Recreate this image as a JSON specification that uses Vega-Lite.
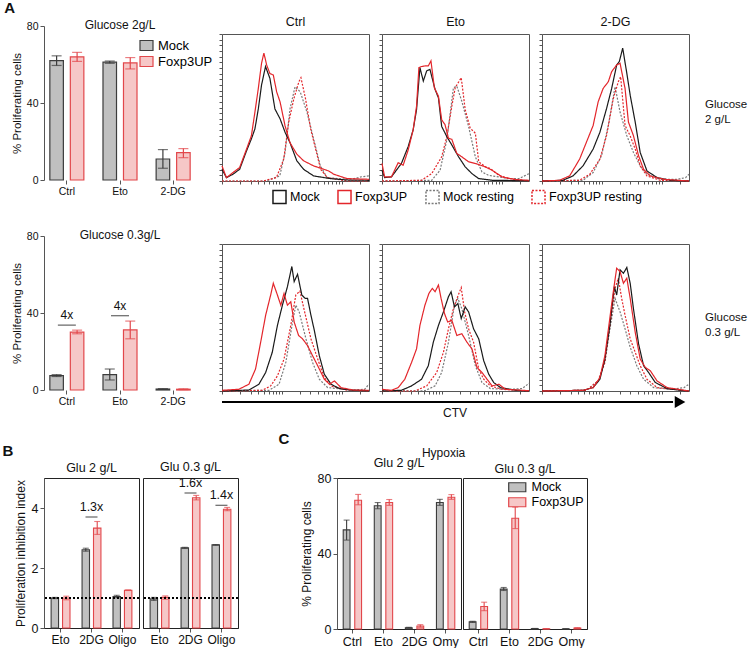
{
"$schema":"https://vega.github.io/schema/vega-lite/v6.json",
"padding":{"left":2,"top":0,"right":0,"bottom":0},
"config":{
 "font":"Liberation Sans",
 "view":{"stroke":null},
 "axis":{"grid":false,"domainColor":"#555","tickColor":"#555","labelColor":"#111","titleColor":"#111","titleFontWeight":"normal","labelFontSize":10.5,"titleFontSize":11.5,"tickSize":4,"labelPadding":2,"titlePadding":4},
 "title":{"fontWeight":"normal","fontSize":12,"color":"#111"},
 "legend":{"labelFontSize":12.5,"titleFontWeight":"normal","layout":{"bottom":{"anchor":"middle"},"top":{"anchor":"middle"}}},
 "header":{"labelFontSize":12.5,"labelColor":"#111"}
},
"datasets":{
 "bars":[
  {"panel":"A1","c":"Ctrl","s":"Mock","v":62,"lo":59.5,"hi":64.5},
  {"panel":"A1","c":"Ctrl","s":"Foxp3UP","v":64,"lo":61.6,"hi":66.3},
  {"panel":"A1","c":"Eto","s":"Mock","v":61.2,"lo":60.6,"hi":61.8},
  {"panel":"A1","c":"Eto","s":"Foxp3UP","v":60.8,"lo":57.7,"hi":63.6},
  {"panel":"A1","c":"2-DG","s":"Mock","v":10.9,"lo":6.1,"hi":15.8},
  {"panel":"A1","c":"2-DG","s":"Foxp3UP","v":14.2,"lo":11.6,"hi":16.3},
  {"panel":"A2","c":"Ctrl","s":"Mock","v":7.5,"lo":7,"hi":8},
  {"panel":"A2","c":"Ctrl","s":"Foxp3UP","v":30.1,"lo":29.2,"hi":31.1},
  {"panel":"A2","c":"Eto","s":"Mock","v":8,"lo":5.2,"hi":10.9},
  {"panel":"A2","c":"Eto","s":"Foxp3UP","v":31.2,"lo":26.6,"hi":35.8},
  {"panel":"A2","c":"2-DG","s":"Mock","v":0.5,"lo":0.3,"hi":0.7},
  {"panel":"A2","c":"2-DG","s":"Foxp3UP","v":0.4,"lo":0.2,"hi":0.6}
 ],
 "ann":[
  {"panel":"A1","c":"Eto","t":"Glucose 2g/L","y":80,"kind":"title"},
  {"panel":"A2","c":"Eto","t":"Glucose 0.3g/L","y":80,"kind":"title"},
  {"panel":"A2","c":"Ctrl","t":"4x","y":33.7,"kind":"fold"},
  {"panel":"A2","c":"Eto","t":"4x","y":38.6,"kind":"fold"}
 ],
 "bc":[
  {"fig":"B","g":"Glu 2 g/L","c":"Eto","s":"Mock","v":1.0,"lo":0.98,"hi":1.02},
  {"fig":"B","g":"Glu 2 g/L","c":"Eto","s":"Foxp3UP","v":1.0,"lo":0.94,"hi":1.06},
  {"fig":"B","g":"Glu 2 g/L","c":"2DG","s":"Mock","v":2.61,"lo":2.56,"hi":2.66},
  {"fig":"B","g":"Glu 2 g/L","c":"2DG","s":"Foxp3UP","v":3.33,"lo":3.12,"hi":3.55},
  {"fig":"B","g":"Glu 2 g/L","c":"Oligo","s":"Mock","v":1.05,"lo":1.01,"hi":1.09},
  {"fig":"B","g":"Glu 2 g/L","c":"Oligo","s":"Foxp3UP","v":1.26,"lo":1.25,"hi":1.27},
  {"fig":"B","g":"Glu 0.3 g/L","c":"Eto","s":"Mock","v":0.97,"lo":0.92,"hi":1.02},
  {"fig":"B","g":"Glu 0.3 g/L","c":"Eto","s":"Foxp3UP","v":1.02,"lo":0.96,"hi":1.07},
  {"fig":"B","g":"Glu 0.3 g/L","c":"2DG","s":"Mock","v":2.67,"lo":2.65,"hi":2.69},
  {"fig":"B","g":"Glu 0.3 g/L","c":"2DG","s":"Foxp3UP","v":4.34,"lo":4.27,"hi":4.42},
  {"fig":"B","g":"Glu 0.3 g/L","c":"Oligo","s":"Mock","v":2.77,"lo":2.76,"hi":2.78},
  {"fig":"B","g":"Glu 0.3 g/L","c":"Oligo","s":"Foxp3UP","v":3.96,"lo":3.91,"hi":4.02},
  {"fig":"B","g":"Glu 2 g/L","c":"2DG","t":"1.3x","ay":3.7},
  {"fig":"B","g":"Glu 0.3 g/L","c":"2DG","t":"1.6x","ay":4.5},
  {"fig":"B","g":"Glu 0.3 g/L","c":"Oligo","t":"1.4x","ay":4.09},
  {"fig":"C","g":"Glu 2 g/L","c":"Ctrl","s":"Mock","v":52.5,"lo":47.1,"hi":57.7},
  {"fig":"C","g":"Glu 2 g/L","c":"Ctrl","s":"Foxp3UP","v":68.2,"lo":65.8,"hi":71.3},
  {"fig":"C","g":"Glu 2 g/L","c":"Eto","s":"Mock","v":65.3,"lo":63.7,"hi":67},
  {"fig":"C","g":"Glu 2 g/L","c":"Eto","s":"Foxp3UP","v":67,"lo":65.5,"hi":68.6},
  {"fig":"C","g":"Glu 2 g/L","c":"2DG","s":"Mock","v":0.7,"lo":0.5,"hi":0.9},
  {"fig":"C","g":"Glu 2 g/L","c":"2DG","s":"Foxp3UP","v":1.6,"lo":0.9,"hi":2.3},
  {"fig":"C","g":"Glu 2 g/L","c":"Omy","s":"Mock","v":67,"lo":65.5,"hi":68.7},
  {"fig":"C","g":"Glu 2 g/L","c":"Omy","s":"Foxp3UP","v":69.8,"lo":68.7,"hi":71.2},
  {"fig":"C","g":"Glu 0.3 g/L","c":"Ctrl","s":"Mock","v":3.8,"lo":3.5,"hi":4.1},
  {"fig":"C","g":"Glu 0.3 g/L","c":"Ctrl","s":"Foxp3UP","v":11.9,"lo":9.7,"hi":14.2},
  {"fig":"C","g":"Glu 0.3 g/L","c":"Eto","s":"Mock","v":21.1,"lo":20.4,"hi":22},
  {"fig":"C","g":"Glu 0.3 g/L","c":"Eto","s":"Foxp3UP","v":58.7,"lo":53.2,"hi":64.6},
  {"fig":"C","g":"Glu 0.3 g/L","c":"2DG","s":"Mock","v":0.2,"lo":0.1,"hi":0.3},
  {"fig":"C","g":"Glu 0.3 g/L","c":"2DG","s":"Foxp3UP","v":0.1,"lo":0,"hi":0.2},
  {"fig":"C","g":"Glu 0.3 g/L","c":"Omy","s":"Mock","v":0.05,"lo":0,"hi":0.1},
  {"fig":"C","g":"Glu 0.3 g/L","c":"Omy","s":"Foxp3UP","v":0.5,"lo":0.3,"hi":0.7}
 ],
 "lbl":[
  {"r":1,"t":["Glucose","2 g/L"]},
  {"r":2,"t":["Glucose","0.3 g/L"]}
 ],
 "arrow":[{"x0":0,"x1":97,"xt":98.5}],
 "hist":[
  {"p":"2Ctrl","s":"Mock resting","x":0,"y":0},{"p":"2Ctrl","s":"Mock resting","x":30,"y":0},{"p":"2Ctrl","s":"Mock resting","x":39.3,"y":3.6},{"p":"2Ctrl","s":"Mock resting","x":42.9,"y":20.2},{"p":"2Ctrl","s":"Mock resting","x":46.3,"y":51.2},{"p":"2Ctrl","s":"Mock resting","x":49.7,"y":66.7},{"p":"2Ctrl","s":"Mock resting","x":53.2,"y":63.1},{"p":"2Ctrl","s":"Mock resting","x":57.8,"y":48.8},{"p":"2Ctrl","s":"Mock resting","x":62.3,"y":29.8},{"p":"2Ctrl","s":"Mock resting","x":66.9,"y":10.7},{"p":"2Ctrl","s":"Mock resting","x":71.5,"y":2.4},{"p":"2Ctrl","s":"Mock resting","x":85,"y":1.2},{"p":"2Ctrl","s":"Mock resting","x":90,"y":1.7},{"p":"2Ctrl","s":"Mock resting","x":95,"y":3},{"p":"2Ctrl","s":"Mock resting","x":100,"y":3.6},
  {"p":"2Ctrl","s":"Foxp3UP resting","x":0,"y":0},{"p":"2Ctrl","s":"Foxp3UP resting","x":28,"y":0},{"p":"2Ctrl","s":"Foxp3UP resting","x":37,"y":2.4},{"p":"2Ctrl","s":"Foxp3UP resting","x":42,"y":15.5},{"p":"2Ctrl","s":"Foxp3UP resting","x":45.4,"y":41.7},{"p":"2Ctrl","s":"Foxp3UP resting","x":48.9,"y":58.3},{"p":"2Ctrl","s":"Foxp3UP resting","x":52.3,"y":70.2},{"p":"2Ctrl","s":"Foxp3UP resting","x":53.7,"y":73.1},{"p":"2Ctrl","s":"Foxp3UP resting","x":56.8,"y":58.3},{"p":"2Ctrl","s":"Foxp3UP resting","x":60.3,"y":36.9},{"p":"2Ctrl","s":"Foxp3UP resting","x":63.7,"y":22.6},{"p":"2Ctrl","s":"Foxp3UP resting","x":67.1,"y":8.3},{"p":"2Ctrl","s":"Foxp3UP resting","x":71.7,"y":2.4},{"p":"2Ctrl","s":"Foxp3UP resting","x":85,"y":0},{"p":"2Ctrl","s":"Foxp3UP resting","x":100,"y":0},
  {"p":"2Ctrl","s":"Mock","x":0,"y":8.3},{"p":"2Ctrl","s":"Mock","x":3,"y":2.4},{"p":"2Ctrl","s":"Mock","x":7.5,"y":4.8},{"p":"2Ctrl","s":"Mock","x":12,"y":8.3},{"p":"2Ctrl","s":"Mock","x":16.7,"y":21.4},{"p":"2Ctrl","s":"Mock","x":20,"y":29.8},{"p":"2Ctrl","s":"Mock","x":22.4,"y":36.9},{"p":"2Ctrl","s":"Mock","x":24.7,"y":51},{"p":"2Ctrl","s":"Mock","x":26.9,"y":67.9},{"p":"2Ctrl","s":"Mock","x":29.6,"y":81},{"p":"2Ctrl","s":"Mock","x":32.6,"y":72.6},{"p":"2Ctrl","s":"Mock","x":36,"y":51},{"p":"2Ctrl","s":"Mock","x":39.5,"y":44},{"p":"2Ctrl","s":"Mock","x":42.9,"y":34.5},{"p":"2Ctrl","s":"Mock","x":46.3,"y":27},{"p":"2Ctrl","s":"Mock","x":50.9,"y":14.3},{"p":"2Ctrl","s":"Mock","x":55.5,"y":8.3},{"p":"2Ctrl","s":"Mock","x":62.3,"y":3.6},{"p":"2Ctrl","s":"Mock","x":73.7,"y":1.7},{"p":"2Ctrl","s":"Mock","x":85,"y":0.7},{"p":"2Ctrl","s":"Mock","x":100,"y":0.5},
  {"p":"2Ctrl","s":"Foxp3UP","x":0,"y":10.7},{"p":"2Ctrl","s":"Foxp3UP","x":3,"y":2.4},{"p":"2Ctrl","s":"Foxp3UP","x":7.5,"y":6},{"p":"2Ctrl","s":"Foxp3UP","x":12,"y":9.5},{"p":"2Ctrl","s":"Foxp3UP","x":16.7,"y":22.6},{"p":"2Ctrl","s":"Foxp3UP","x":20,"y":32},{"p":"2Ctrl","s":"Foxp3UP","x":22.4,"y":48.8},{"p":"2Ctrl","s":"Foxp3UP","x":24.7,"y":65.5},{"p":"2Ctrl","s":"Foxp3UP","x":26.9,"y":83.3},{"p":"2Ctrl","s":"Foxp3UP","x":28.5,"y":90.5},{"p":"2Ctrl","s":"Foxp3UP","x":30.4,"y":82},{"p":"2Ctrl","s":"Foxp3UP","x":32.6,"y":76},{"p":"2Ctrl","s":"Foxp3UP","x":34.9,"y":75},{"p":"2Ctrl","s":"Foxp3UP","x":37.2,"y":63},{"p":"2Ctrl","s":"Foxp3UP","x":39.5,"y":56},{"p":"2Ctrl","s":"Foxp3UP","x":42.9,"y":39},{"p":"2Ctrl","s":"Foxp3UP","x":46.3,"y":27},{"p":"2Ctrl","s":"Foxp3UP","x":50.9,"y":19},{"p":"2Ctrl","s":"Foxp3UP","x":55.5,"y":14.3},{"p":"2Ctrl","s":"Foxp3UP","x":62.3,"y":10.7},{"p":"2Ctrl","s":"Foxp3UP","x":69.2,"y":8.3},{"p":"2Ctrl","s":"Foxp3UP","x":72.6,"y":7.1},{"p":"2Ctrl","s":"Foxp3UP","x":76,"y":4.8},{"p":"2Ctrl","s":"Foxp3UP","x":85,"y":1.7},{"p":"2Ctrl","s":"Foxp3UP","x":100,"y":1.2},

  {"p":"2Eto","s":"Mock resting","x":0,"y":0},{"p":"2Eto","s":"Mock resting","x":33.8,"y":0.5},{"p":"2Eto","s":"Mock resting","x":39.5,"y":7.6},{"p":"2Eto","s":"Mock resting","x":44.1,"y":29},{"p":"2Eto","s":"Mock resting","x":48.6,"y":66},{"p":"2Eto","s":"Mock resting","x":50.9,"y":67.1},{"p":"2Eto","s":"Mock resting","x":54.3,"y":56.4},{"p":"2Eto","s":"Mock resting","x":58.9,"y":38.6},{"p":"2Eto","s":"Mock resting","x":63.5,"y":17.1},{"p":"2Eto","s":"Mock resting","x":68,"y":6.4},{"p":"2Eto","s":"Mock resting","x":72.6,"y":4},{"p":"2Eto","s":"Mock resting","x":86.3,"y":1.7},{"p":"2Eto","s":"Mock resting","x":93.2,"y":1.7},{"p":"2Eto","s":"Mock resting","x":100,"y":5.2},
  {"p":"2Eto","s":"Foxp3UP resting","x":0,"y":0},{"p":"2Eto","s":"Foxp3UP resting","x":26.9,"y":0.5},{"p":"2Eto","s":"Foxp3UP resting","x":33.8,"y":5.2},{"p":"2Eto","s":"Foxp3UP resting","x":40.6,"y":17.1},{"p":"2Eto","s":"Foxp3UP resting","x":44.1,"y":31.4},{"p":"2Eto","s":"Foxp3UP resting","x":47.5,"y":52.9},{"p":"2Eto","s":"Foxp3UP resting","x":49.8,"y":66},{"p":"2Eto","s":"Foxp3UP resting","x":53.9,"y":73.1},{"p":"2Eto","s":"Foxp3UP resting","x":56.6,"y":50.5},{"p":"2Eto","s":"Foxp3UP resting","x":60,"y":37.4},{"p":"2Eto","s":"Foxp3UP resting","x":63.5,"y":33.8},{"p":"2Eto","s":"Foxp3UP resting","x":65.8,"y":13.6},{"p":"2Eto","s":"Foxp3UP resting","x":70.3,"y":10},{"p":"2Eto","s":"Foxp3UP resting","x":73.7,"y":8.8},{"p":"2Eto","s":"Foxp3UP resting","x":79.5,"y":4},{"p":"2Eto","s":"Foxp3UP resting","x":86.3,"y":1.7},{"p":"2Eto","s":"Foxp3UP resting","x":100,"y":0},
  {"p":"2Eto","s":"Mock","x":0,"y":7.6},{"p":"2Eto","s":"Mock","x":1.8,"y":2.4},{"p":"2Eto","s":"Mock","x":6.4,"y":2.9},{"p":"2Eto","s":"Mock","x":13.2,"y":12.4},{"p":"2Eto","s":"Mock","x":17.8,"y":24.3},{"p":"2Eto","s":"Mock","x":21.2,"y":36.2},{"p":"2Eto","s":"Mock","x":23.5,"y":50.5},{"p":"2Eto","s":"Mock","x":25.8,"y":80.2},{"p":"2Eto","s":"Mock","x":28.1,"y":70.7},{"p":"2Eto","s":"Mock","x":30.4,"y":77.9},{"p":"2Eto","s":"Mock","x":32.6,"y":79},{"p":"2Eto","s":"Mock","x":36.1,"y":64.8},{"p":"2Eto","s":"Mock","x":38.4,"y":58.8},{"p":"2Eto","s":"Mock","x":40.6,"y":38.6},{"p":"2Eto","s":"Mock","x":44.1,"y":31.4},{"p":"2Eto","s":"Mock","x":47.5,"y":25.5},{"p":"2Eto","s":"Mock","x":52.1,"y":17.1},{"p":"2Eto","s":"Mock","x":56.6,"y":10},{"p":"2Eto","s":"Mock","x":61.2,"y":5.2},{"p":"2Eto","s":"Mock","x":65.8,"y":1.7},{"p":"2Eto","s":"Mock","x":74.9,"y":0.5},{"p":"2Eto","s":"Mock","x":100,"y":0.2},
  {"p":"2Eto","s":"Foxp3UP","x":0,"y":12.4},{"p":"2Eto","s":"Foxp3UP","x":1.8,"y":2.9},{"p":"2Eto","s":"Foxp3UP","x":6.4,"y":2.9},{"p":"2Eto","s":"Foxp3UP","x":11,"y":12.9},{"p":"2Eto","s":"Foxp3UP","x":14.4,"y":11.2},{"p":"2Eto","s":"Foxp3UP","x":17.8,"y":21.9},{"p":"2Eto","s":"Foxp3UP","x":21.2,"y":36.2},{"p":"2Eto","s":"Foxp3UP","x":23.5,"y":52.9},{"p":"2Eto","s":"Foxp3UP","x":25.1,"y":80.2},{"p":"2Eto","s":"Foxp3UP","x":26.9,"y":81},{"p":"2Eto","s":"Foxp3UP","x":29.2,"y":81.4},{"p":"2Eto","s":"Foxp3UP","x":31.5,"y":81.4},{"p":"2Eto","s":"Foxp3UP","x":33.3,"y":85},{"p":"2Eto","s":"Foxp3UP","x":35.6,"y":66},{"p":"2Eto","s":"Foxp3UP","x":38.4,"y":60},{"p":"2Eto","s":"Foxp3UP","x":40.6,"y":43.3},{"p":"2Eto","s":"Foxp3UP","x":42.9,"y":39.8},{"p":"2Eto","s":"Foxp3UP","x":45.2,"y":30.2},{"p":"2Eto","s":"Foxp3UP","x":47.5,"y":29.5},{"p":"2Eto","s":"Foxp3UP","x":50.9,"y":19.5},{"p":"2Eto","s":"Foxp3UP","x":54.3,"y":17.1},{"p":"2Eto","s":"Foxp3UP","x":58.9,"y":13.6},{"p":"2Eto","s":"Foxp3UP","x":63.5,"y":12.4},{"p":"2Eto","s":"Foxp3UP","x":70.3,"y":10},{"p":"2Eto","s":"Foxp3UP","x":74.9,"y":7.6},{"p":"2Eto","s":"Foxp3UP","x":81.7,"y":2.9},{"p":"2Eto","s":"Foxp3UP","x":90.9,"y":1},{"p":"2Eto","s":"Foxp3UP","x":100,"y":0.5},

  {"p":"2DG","s":"Mock resting","x":0,"y":0},{"p":"2DG","s":"Mock resting","x":27.9,"y":0.5},{"p":"2DG","s":"Mock resting","x":34.8,"y":6},{"p":"2DG","s":"Mock resting","x":40.5,"y":17.9},{"p":"2DG","s":"Mock resting","x":45.1,"y":39.3},{"p":"2DG","s":"Mock resting","x":49.7,"y":66.7},{"p":"2DG","s":"Mock resting","x":53.1,"y":48.8},{"p":"2DG","s":"Mock resting","x":57.7,"y":32.1},{"p":"2DG","s":"Mock resting","x":62.2,"y":20.2},{"p":"2DG","s":"Mock resting","x":66.8,"y":10.7},{"p":"2DG","s":"Mock resting","x":71.4,"y":4.8},{"p":"2DG","s":"Mock resting","x":80.5,"y":1.2},{"p":"2DG","s":"Mock resting","x":92,"y":1.2},{"p":"2DG","s":"Mock resting","x":97.7,"y":2.4},{"p":"2DG","s":"Mock resting","x":100,"y":4.8},
  {"p":"2DG","s":"Foxp3UP resting","x":0,"y":0},{"p":"2DG","s":"Foxp3UP resting","x":25.6,"y":0.5},{"p":"2DG","s":"Foxp3UP resting","x":32.5,"y":4.8},{"p":"2DG","s":"Foxp3UP resting","x":39.4,"y":15.5},{"p":"2DG","s":"Foxp3UP resting","x":43.9,"y":32.1},{"p":"2DG","s":"Foxp3UP resting","x":48.5,"y":58.3},{"p":"2DG","s":"Foxp3UP resting","x":51.9,"y":70.2},{"p":"2DG","s":"Foxp3UP resting","x":53.5,"y":73.8},{"p":"2DG","s":"Foxp3UP resting","x":56.5,"y":39.3},{"p":"2DG","s":"Foxp3UP resting","x":59.9,"y":32.1},{"p":"2DG","s":"Foxp3UP resting","x":63.4,"y":22.6},{"p":"2DG","s":"Foxp3UP resting","x":66.8,"y":10.7},{"p":"2DG","s":"Foxp3UP resting","x":71.4,"y":3.6},{"p":"2DG","s":"Foxp3UP resting","x":80.5,"y":0.5},{"p":"2DG","s":"Foxp3UP resting","x":100,"y":0},
  {"p":"2DG","s":"Mock","x":0,"y":0},{"p":"2DG","s":"Mock","x":14.2,"y":0.5},{"p":"2DG","s":"Mock","x":21.1,"y":3.6},{"p":"2DG","s":"Mock","x":27.9,"y":10.7},{"p":"2DG","s":"Mock","x":34.8,"y":22.6},{"p":"2DG","s":"Mock","x":39.4,"y":34.5},{"p":"2DG","s":"Mock","x":43.9,"y":51.2},{"p":"2DG","s":"Mock","x":47.4,"y":65.5},{"p":"2DG","s":"Mock","x":50.8,"y":82.1},{"p":"2DG","s":"Mock","x":52.6,"y":84.5},{"p":"2DG","s":"Mock","x":54.9,"y":94},{"p":"2DG","s":"Mock","x":57.7,"y":76.2},{"p":"2DG","s":"Mock","x":60,"y":60.7},{"p":"2DG","s":"Mock","x":63.4,"y":41.7},{"p":"2DG","s":"Mock","x":66.8,"y":20.2},{"p":"2DG","s":"Mock","x":71.4,"y":7.1},{"p":"2DG","s":"Mock","x":78.3,"y":2.4},{"p":"2DG","s":"Mock","x":87.4,"y":0.5},{"p":"2DG","s":"Mock","x":100,"y":0},
  {"p":"2DG","s":"Foxp3UP","x":0,"y":0},{"p":"2DG","s":"Foxp3UP","x":11.9,"y":0.5},{"p":"2DG","s":"Foxp3UP","x":18.8,"y":3.6},{"p":"2DG","s":"Foxp3UP","x":25.6,"y":15.5},{"p":"2DG","s":"Foxp3UP","x":30.2,"y":27.4},{"p":"2DG","s":"Foxp3UP","x":34.8,"y":39.3},{"p":"2DG","s":"Foxp3UP","x":38.2,"y":56},{"p":"2DG","s":"Foxp3UP","x":41.6,"y":65.5},{"p":"2DG","s":"Foxp3UP","x":45.1,"y":70.2},{"p":"2DG","s":"Foxp3UP","x":47.4,"y":77.4},{"p":"2DG","s":"Foxp3UP","x":50.8,"y":82.1},{"p":"2DG","s":"Foxp3UP","x":53.1,"y":83.3},{"p":"2DG","s":"Foxp3UP","x":56.5,"y":65.5},{"p":"2DG","s":"Foxp3UP","x":58.8,"y":41.7},{"p":"2DG","s":"Foxp3UP","x":62.2,"y":32.1},{"p":"2DG","s":"Foxp3UP","x":65.7,"y":17.9},{"p":"2DG","s":"Foxp3UP","x":69.1,"y":8.3},{"p":"2DG","s":"Foxp3UP","x":73.7,"y":3.6},{"p":"2DG","s":"Foxp3UP","x":82.8,"y":1.2},{"p":"2DG","s":"Foxp3UP","x":100,"y":0},

  {"p":"03Ctrl","s":"Mock resting","x":0,"y":0},{"p":"03Ctrl","s":"Mock resting","x":32,"y":0.5},{"p":"03Ctrl","s":"Mock resting","x":38.8,"y":4.8},{"p":"03Ctrl","s":"Mock resting","x":43.4,"y":20.2},{"p":"03Ctrl","s":"Mock resting","x":48,"y":48.8},{"p":"03Ctrl","s":"Mock resting","x":50.2,"y":60.7},{"p":"03Ctrl","s":"Mock resting","x":52.5,"y":56},{"p":"03Ctrl","s":"Mock resting","x":57.1,"y":36.9},{"p":"03Ctrl","s":"Mock resting","x":61.6,"y":20.2},{"p":"03Ctrl","s":"Mock resting","x":66.2,"y":8.3},{"p":"03Ctrl","s":"Mock resting","x":71.9,"y":2.4},{"p":"03Ctrl","s":"Mock resting","x":89,"y":0.7},{"p":"03Ctrl","s":"Mock resting","x":97,"y":1.2},{"p":"03Ctrl","s":"Mock resting","x":100,"y":4.8},
  {"p":"03Ctrl","s":"Foxp3UP resting","x":0,"y":0},{"p":"03Ctrl","s":"Foxp3UP resting","x":27.4,"y":0.5},{"p":"03Ctrl","s":"Foxp3UP resting","x":33.1,"y":3.6},{"p":"03Ctrl","s":"Foxp3UP resting","x":37.7,"y":10.7},{"p":"03Ctrl","s":"Foxp3UP resting","x":42.2,"y":22.6},{"p":"03Ctrl","s":"Foxp3UP resting","x":46.8,"y":46.4},{"p":"03Ctrl","s":"Foxp3UP resting","x":50.2,"y":67.9},{"p":"03Ctrl","s":"Foxp3UP resting","x":53,"y":70.7},{"p":"03Ctrl","s":"Foxp3UP resting","x":55.7,"y":58.3},{"p":"03Ctrl","s":"Foxp3UP resting","x":60.5,"y":36.9},{"p":"03Ctrl","s":"Foxp3UP resting","x":65.1,"y":22.6},{"p":"03Ctrl","s":"Foxp3UP resting","x":69.6,"y":9.5},{"p":"03Ctrl","s":"Foxp3UP resting","x":74.2,"y":3.6},{"p":"03Ctrl","s":"Foxp3UP resting","x":84.5,"y":0.7},{"p":"03Ctrl","s":"Foxp3UP resting","x":100,"y":0},
  {"p":"03Ctrl","s":"Mock","x":0,"y":0},{"p":"03Ctrl","s":"Mock","x":18.3,"y":0.7},{"p":"03Ctrl","s":"Mock","x":25.1,"y":4.8},{"p":"03Ctrl","s":"Mock","x":29.7,"y":13.1},{"p":"03Ctrl","s":"Mock","x":34.2,"y":27.4},{"p":"03Ctrl","s":"Mock","x":37.7,"y":46.4},{"p":"03Ctrl","s":"Mock","x":41.1,"y":60.7},{"p":"03Ctrl","s":"Mock","x":44.5,"y":73.8},{"p":"03Ctrl","s":"Mock","x":47.5,"y":88.1},{"p":"03Ctrl","s":"Mock","x":49.1,"y":77.4},{"p":"03Ctrl","s":"Mock","x":51.4,"y":82.6},{"p":"03Ctrl","s":"Mock","x":54.3,"y":67.9},{"p":"03Ctrl","s":"Mock","x":56.6,"y":65.5},{"p":"03Ctrl","s":"Mock","x":58.2,"y":65.5},{"p":"03Ctrl","s":"Mock","x":60.5,"y":53.6},{"p":"03Ctrl","s":"Mock","x":62.8,"y":42.9},{"p":"03Ctrl","s":"Mock","x":66.2,"y":25},{"p":"03Ctrl","s":"Mock","x":69.6,"y":11.9},{"p":"03Ctrl","s":"Mock","x":74.2,"y":4.8},{"p":"03Ctrl","s":"Mock","x":79.9,"y":1.7},{"p":"03Ctrl","s":"Mock","x":89,"y":0.5},{"p":"03Ctrl","s":"Mock","x":100,"y":0.2},
  {"p":"03Ctrl","s":"Foxp3UP","x":0,"y":0.5},{"p":"03Ctrl","s":"Foxp3UP","x":11.4,"y":1.2},{"p":"03Ctrl","s":"Foxp3UP","x":18.3,"y":4.8},{"p":"03Ctrl","s":"Foxp3UP","x":22.8,"y":15.5},{"p":"03Ctrl","s":"Foxp3UP","x":26.3,"y":34.5},{"p":"03Ctrl","s":"Foxp3UP","x":29.7,"y":53.6},{"p":"03Ctrl","s":"Foxp3UP","x":33.1,"y":67.9},{"p":"03Ctrl","s":"Foxp3UP","x":34.9,"y":76.2},{"p":"03Ctrl","s":"Foxp3UP","x":37.7,"y":67.9},{"p":"03Ctrl","s":"Foxp3UP","x":40,"y":60.7},{"p":"03Ctrl","s":"Foxp3UP","x":42.2,"y":69},{"p":"03Ctrl","s":"Foxp3UP","x":44.5,"y":60.7},{"p":"03Ctrl","s":"Foxp3UP","x":46.8,"y":63.1},{"p":"03Ctrl","s":"Foxp3UP","x":49.1,"y":48.8},{"p":"03Ctrl","s":"Foxp3UP","x":52.1,"y":39.3},{"p":"03Ctrl","s":"Foxp3UP","x":54.8,"y":36.9},{"p":"03Ctrl","s":"Foxp3UP","x":58.2,"y":32.1},{"p":"03Ctrl","s":"Foxp3UP","x":61.6,"y":25},{"p":"03Ctrl","s":"Foxp3UP","x":65.1,"y":17.9},{"p":"03Ctrl","s":"Foxp3UP","x":69.6,"y":8.3},{"p":"03Ctrl","s":"Foxp3UP","x":73.1,"y":4.8},{"p":"03Ctrl","s":"Foxp3UP","x":76.5,"y":7.1},{"p":"03Ctrl","s":"Foxp3UP","x":81,"y":2.4},{"p":"03Ctrl","s":"Foxp3UP","x":89,"y":0.7},{"p":"03Ctrl","s":"Foxp3UP","x":100,"y":0.5},

  {"p":"03Eto","s":"Mock resting","x":0,"y":0},{"p":"03Eto","s":"Mock resting","x":29.2,"y":0.2},{"p":"03Eto","s":"Mock resting","x":36.1,"y":3.6},{"p":"03Eto","s":"Mock resting","x":40.6,"y":13.1},{"p":"03Eto","s":"Mock resting","x":45.2,"y":34.5},{"p":"03Eto","s":"Mock resting","x":49.3,"y":60.7},{"p":"03Eto","s":"Mock resting","x":51.6,"y":65.5},{"p":"03Eto","s":"Mock resting","x":54.3,"y":58.3},{"p":"03Eto","s":"Mock resting","x":58.9,"y":39.3},{"p":"03Eto","s":"Mock resting","x":63.5,"y":17.9},{"p":"03Eto","s":"Mock resting","x":68,"y":6},{"p":"03Eto","s":"Mock resting","x":73.7,"y":1.7},{"p":"03Eto","s":"Mock resting","x":86.3,"y":1.2},{"p":"03Eto","s":"Mock resting","x":95.4,"y":1.7},{"p":"03Eto","s":"Mock resting","x":100,"y":5.5},
  {"p":"03Eto","s":"Foxp3UP resting","x":0,"y":0},{"p":"03Eto","s":"Foxp3UP resting","x":22.4,"y":0},{"p":"03Eto","s":"Foxp3UP resting","x":30.4,"y":3.6},{"p":"03Eto","s":"Foxp3UP resting","x":37.2,"y":13.1},{"p":"03Eto","s":"Foxp3UP resting","x":41.8,"y":27.4},{"p":"03Eto","s":"Foxp3UP resting","x":45.2,"y":44},{"p":"03Eto","s":"Foxp3UP resting","x":48.6,"y":58.3},{"p":"03Eto","s":"Foxp3UP resting","x":51.9,"y":67.9},{"p":"03Eto","s":"Foxp3UP resting","x":53.9,"y":73.1},{"p":"03Eto","s":"Foxp3UP resting","x":56.2,"y":56},{"p":"03Eto","s":"Foxp3UP resting","x":58.9,"y":44},{"p":"03Eto","s":"Foxp3UP resting","x":62.3,"y":34.5},{"p":"03Eto","s":"Foxp3UP resting","x":65.8,"y":15.5},{"p":"03Eto","s":"Foxp3UP resting","x":69.2,"y":8.3},{"p":"03Eto","s":"Foxp3UP resting","x":73.7,"y":3.6},{"p":"03Eto","s":"Foxp3UP resting","x":81.7,"y":1.2},{"p":"03Eto","s":"Foxp3UP resting","x":100,"y":0},
  {"p":"03Eto","s":"Mock","x":0,"y":0},{"p":"03Eto","s":"Mock","x":13.2,"y":0.5},{"p":"03Eto","s":"Mock","x":20.1,"y":3.6},{"p":"03Eto","s":"Mock","x":26.9,"y":8.3},{"p":"03Eto","s":"Mock","x":31.5,"y":17.9},{"p":"03Eto","s":"Mock","x":34.9,"y":34.5},{"p":"03Eto","s":"Mock","x":38.4,"y":46.4},{"p":"03Eto","s":"Mock","x":41.8,"y":56},{"p":"03Eto","s":"Mock","x":45.2,"y":66.7},{"p":"03Eto","s":"Mock","x":47,"y":70.2},{"p":"03Eto","s":"Mock","x":49.3,"y":59.5},{"p":"03Eto","s":"Mock","x":51.6,"y":61.9},{"p":"03Eto","s":"Mock","x":53.9,"y":51.2},{"p":"03Eto","s":"Mock","x":56.6,"y":59.5},{"p":"03Eto","s":"Mock","x":58.9,"y":56},{"p":"03Eto","s":"Mock","x":62.3,"y":44},{"p":"03Eto","s":"Mock","x":65.8,"y":36.9},{"p":"03Eto","s":"Mock","x":69.2,"y":21.4},{"p":"03Eto","s":"Mock","x":72.6,"y":11.9},{"p":"03Eto","s":"Mock","x":76,"y":6},{"p":"03Eto","s":"Mock","x":80.6,"y":2.4},{"p":"03Eto","s":"Mock","x":90.9,"y":0.5},{"p":"03Eto","s":"Mock","x":100,"y":0},
  {"p":"03Eto","s":"Foxp3UP","x":0,"y":1.2},{"p":"03Eto","s":"Foxp3UP","x":6.4,"y":0.5},{"p":"03Eto","s":"Foxp3UP","x":11,"y":2.4},{"p":"03Eto","s":"Foxp3UP","x":15.5,"y":8.3},{"p":"03Eto","s":"Foxp3UP","x":20.1,"y":20.2},{"p":"03Eto","s":"Foxp3UP","x":23.5,"y":29.8},{"p":"03Eto","s":"Foxp3UP","x":25.8,"y":46.4},{"p":"03Eto","s":"Foxp3UP","x":29.2,"y":60.7},{"p":"03Eto","s":"Foxp3UP","x":31.9,"y":69},{"p":"03Eto","s":"Foxp3UP","x":34.2,"y":72.6},{"p":"03Eto","s":"Foxp3UP","x":36.1,"y":70.2},{"p":"03Eto","s":"Foxp3UP","x":38.4,"y":75},{"p":"03Eto","s":"Foxp3UP","x":40.2,"y":65.5},{"p":"03Eto","s":"Foxp3UP","x":42.5,"y":54.8},{"p":"03Eto","s":"Foxp3UP","x":44.7,"y":48.8},{"p":"03Eto","s":"Foxp3UP","x":47.5,"y":50},{"p":"03Eto","s":"Foxp3UP","x":50.9,"y":39.3},{"p":"03Eto","s":"Foxp3UP","x":54.3,"y":40.5},{"p":"03Eto","s":"Foxp3UP","x":57.8,"y":34.5},{"p":"03Eto","s":"Foxp3UP","x":61.2,"y":29.8},{"p":"03Eto","s":"Foxp3UP","x":64.6,"y":16.7},{"p":"03Eto","s":"Foxp3UP","x":68,"y":13.1},{"p":"03Eto","s":"Foxp3UP","x":71.5,"y":8.3},{"p":"03Eto","s":"Foxp3UP","x":74.9,"y":3.6},{"p":"03Eto","s":"Foxp3UP","x":79.5,"y":4.8},{"p":"03Eto","s":"Foxp3UP","x":84,"y":1.2},{"p":"03Eto","s":"Foxp3UP","x":100,"y":0.2},

  {"p":"03DG","s":"Mock resting","x":0,"y":0},{"p":"03DG","s":"Mock resting","x":30.2,"y":0.5},{"p":"03DG","s":"Mock resting","x":38.2,"y":7.1},{"p":"03DG","s":"Mock resting","x":42.8,"y":21.4},{"p":"03DG","s":"Mock resting","x":46.2,"y":44},{"p":"03DG","s":"Mock resting","x":49.7,"y":65.5},{"p":"03DG","s":"Mock resting","x":53.1,"y":56},{"p":"03DG","s":"Mock resting","x":56.5,"y":44},{"p":"03DG","s":"Mock resting","x":60,"y":31},{"p":"03DG","s":"Mock resting","x":64.5,"y":17.9},{"p":"03DG","s":"Mock resting","x":69.1,"y":8.3},{"p":"03DG","s":"Mock resting","x":76,"y":2.4},{"p":"03DG","s":"Mock resting","x":87.4,"y":1.2},{"p":"03DG","s":"Mock resting","x":96.6,"y":2.4},{"p":"03DG","s":"Mock resting","x":100,"y":4.8},
  {"p":"03DG","s":"Foxp3UP resting","x":0,"y":0},{"p":"03DG","s":"Foxp3UP resting","x":30.2,"y":0.5},{"p":"03DG","s":"Foxp3UP resting","x":38.2,"y":7.1},{"p":"03DG","s":"Foxp3UP resting","x":42.8,"y":20.2},{"p":"03DG","s":"Foxp3UP resting","x":46.2,"y":46.4},{"p":"03DG","s":"Foxp3UP resting","x":49.7,"y":72.6},{"p":"03DG","s":"Foxp3UP resting","x":51.9,"y":79.8},{"p":"03DG","s":"Foxp3UP resting","x":54.2,"y":65.5},{"p":"03DG","s":"Foxp3UP resting","x":56.5,"y":53.6},{"p":"03DG","s":"Foxp3UP resting","x":60,"y":36.9},{"p":"03DG","s":"Foxp3UP resting","x":63.4,"y":27.4},{"p":"03DG","s":"Foxp3UP resting","x":66.8,"y":17.9},{"p":"03DG","s":"Foxp3UP resting","x":71.4,"y":8.3},{"p":"03DG","s":"Foxp3UP resting","x":78.3,"y":2.4},{"p":"03DG","s":"Foxp3UP resting","x":100,"y":0},
  {"p":"03DG","s":"Mock","x":0,"y":0},{"p":"03DG","s":"Mock","x":27.9,"y":0.5},{"p":"03DG","s":"Mock","x":34.8,"y":2.4},{"p":"03DG","s":"Mock","x":39.4,"y":8.3},{"p":"03DG","s":"Mock","x":42.8,"y":22.6},{"p":"03DG","s":"Mock","x":46.2,"y":46.4},{"p":"03DG","s":"Mock","x":49.2,"y":73.8},{"p":"03DG","s":"Mock","x":50.8,"y":67.9},{"p":"03DG","s":"Mock","x":53.1,"y":85.7},{"p":"03DG","s":"Mock","x":55.4,"y":83.3},{"p":"03DG","s":"Mock","x":57.7,"y":87.4},{"p":"03DG","s":"Mock","x":60,"y":76.2},{"p":"03DG","s":"Mock","x":62.2,"y":58.3},{"p":"03DG","s":"Mock","x":65.7,"y":33.3},{"p":"03DG","s":"Mock","x":69.1,"y":17.9},{"p":"03DG","s":"Mock","x":72.5,"y":13.1},{"p":"03DG","s":"Mock","x":77.1,"y":6},{"p":"03DG","s":"Mock","x":85.1,"y":1.7},{"p":"03DG","s":"Mock","x":94.3,"y":0.5},{"p":"03DG","s":"Mock","x":100,"y":0},
  {"p":"03DG","s":"Foxp3UP","x":0,"y":0},{"p":"03DG","s":"Foxp3UP","x":27.9,"y":0.5},{"p":"03DG","s":"Foxp3UP","x":34.8,"y":2.4},{"p":"03DG","s":"Foxp3UP","x":39.4,"y":9.5},{"p":"03DG","s":"Foxp3UP","x":42.8,"y":25},{"p":"03DG","s":"Foxp3UP","x":45.8,"y":48.8},{"p":"03DG","s":"Foxp3UP","x":48.5,"y":70.2},{"p":"03DG","s":"Foxp3UP","x":50.8,"y":86.9},{"p":"03DG","s":"Foxp3UP","x":53.1,"y":84.5},{"p":"03DG","s":"Foxp3UP","x":55.4,"y":76.2},{"p":"03DG","s":"Foxp3UP","x":57.7,"y":79.8},{"p":"03DG","s":"Foxp3UP","x":60,"y":65.5},{"p":"03DG","s":"Foxp3UP","x":63.4,"y":41.7},{"p":"03DG","s":"Foxp3UP","x":66.8,"y":22.6},{"p":"03DG","s":"Foxp3UP","x":70.3,"y":16.7},{"p":"03DG","s":"Foxp3UP","x":73.7,"y":14.3},{"p":"03DG","s":"Foxp3UP","x":78.3,"y":7.1},{"p":"03DG","s":"Foxp3UP","x":85.1,"y":2.4},{"p":"03DG","s":"Foxp3UP","x":100,"y":0}
 ]
},
"resolve":{"scale":{"color":"independent","fill":"independent","stroke":"independent","strokeDash":"independent","xOffset":"independent"}},
"spacing":14,
"vconcat":[
 {
  "title":{"text":"A","anchor":"start","fontWeight":"bold","fontSize":15,"offset":0,"dx":-7},
  "spacing":5,
  "resolve":{"scale":{"color":"independent","fill":"independent","stroke":"independent","strokeDash":"independent","xOffset":"independent"}},
  "hconcat":[
   {
    "spacing":32,
    "resolve":{"scale":{"color":"independent","fill":"independent","stroke":"independent","strokeDash":"independent","xOffset":"independent"}},
    "vconcat":[
     {
      "width":152,"height":154,
      "view":{"stroke":null},
      "data":{"name":"bars"},
      "transform":[{"filter":"datum.panel === 'A1'"}],
      "layer":[
       {"mark":{"type":"bar","strokeWidth":1.2},
        "encoding":{
         "x":{"field":"c","type":"nominal","sort":["Ctrl","Eto","2-DG"],"scale":{"paddingInner":0.36,"paddingOuter":0.11},"axis":{"title":null,"domain":false,"labelAngle":0,"labelFontSize":10.5}},
         "xOffset":{"field":"s","type":"nominal","sort":["Mock","Foxp3UP"],"scale":{"paddingInner":0.34}},
         "y":{"field":"v","type":"quantitative","title":"% Proliferating cells","scale":{"domain":[0,80]},"axis":{"values":[0,20,40,60,80]}},
         "fill":{"field":"s","type":"nominal","scale":{"domain":["Mock","Foxp3UP"],"range":["#c0c0c0","#f6c7c7"]},"legend":{"title":" ","titleFontSize":11,"titlePadding":2,"orient":"right","offset":-56,"padding":0,"symbolType":"M-1.3,-1L1.3,-1L1.3,1L-1.3,1Z","symbolSize":100,"symbolStrokeWidth":1.2,"labelFontSize":13,"labelOffset":5,"rowPadding":1}},
         "stroke":{"field":"s","type":"nominal","scale":{"domain":["Mock","Foxp3UP"],"range":["#3c3c3c","#e2474b"]},"legend":{"title":" ","titleFontSize":11,"titlePadding":2,"orient":"right","offset":-56,"padding":0,"symbolType":"M-1.3,-1L1.3,-1L1.3,1L-1.3,1Z","symbolSize":100,"symbolStrokeWidth":1.2,"labelFontSize":13,"labelOffset":5,"rowPadding":1}}
        }},
       {"mark":{"type":"rule","strokeWidth":1.2},
        "encoding":{
         "x":{"field":"c","type":"nominal","sort":["Ctrl","Eto","2-DG"]},
         "xOffset":{"field":"s","type":"nominal","sort":["Mock","Foxp3UP"]},
         "y":{"field":"lo","type":"quantitative","title":"% Proliferating cells"},
         "y2":{"field":"hi"},
         "stroke":{"field":"s","type":"nominal"}
        }},
       {"mark":{"type":"tick","size":10,"thickness":1.2},
        "encoding":{
         "x":{"field":"c","type":"nominal","sort":["Ctrl","Eto","2-DG"]},
         "xOffset":{"field":"s","type":"nominal","sort":["Mock","Foxp3UP"]},
         "y":{"field":"lo","type":"quantitative","title":"% Proliferating cells"},
         "color":{"field":"s","type":"nominal","scale":{"domain":["Mock","Foxp3UP"],"range":["#3c3c3c","#e2474b"]},"legend":null}
        }},
       {"mark":{"type":"tick","size":10,"thickness":1.2},
        "encoding":{
         "x":{"field":"c","type":"nominal","sort":["Ctrl","Eto","2-DG"]},
         "xOffset":{"field":"s","type":"nominal","sort":["Mock","Foxp3UP"]},
         "y":{"field":"hi","type":"quantitative","title":"% Proliferating cells"},
         "color":{"field":"s","type":"nominal","scale":{"domain":["Mock","Foxp3UP"],"range":["#3c3c3c","#e2474b"]},"legend":null}
        }},
       {"data":{"name":"ann"},
        "transform":[{"filter":"datum.panel === 'A1' && datum.kind === 'title'"}],
        "mark":{"type":"text","baseline":"alphabetic","dy":3,"fontSize":12,"color":"#111"},
        "encoding":{
         "x":{"field":"c","type":"nominal","sort":["Ctrl","Eto","2-DG"]},
         "y":{"field":"y","type":"quantitative","title":"% Proliferating cells"},
         "text":{"field":"t","type":"nominal"}
        }}
      ]
     },
     {
      "width":152,"height":154,
      "view":{"stroke":null},
      "data":{"name":"bars"},
      "transform":[{"filter":"datum.panel === 'A2'"}],
      "layer":[
       {"mark":{"type":"bar","strokeWidth":1.2},
        "encoding":{
         "x":{"field":"c","type":"nominal","sort":["Ctrl","Eto","2-DG"],"scale":{"paddingInner":0.36,"paddingOuter":0.11},"axis":{"title":null,"domain":false,"labelAngle":0,"labelFontSize":10.5}},
         "xOffset":{"field":"s","type":"nominal","sort":["Mock","Foxp3UP"],"scale":{"paddingInner":0.34}},
         "y":{"field":"v","type":"quantitative","title":"% Proliferating cells","scale":{"domain":[0,80]},"axis":{"values":[0,20,40,60,80]}},
         "fill":{"field":"s","type":"nominal","scale":{"domain":["Mock","Foxp3UP"],"range":["#c0c0c0","#f6c7c7"]},"legend":null},
         "stroke":{"field":"s","type":"nominal","scale":{"domain":["Mock","Foxp3UP"],"range":["#3c3c3c","#e2474b"]},"legend":null}
        }},
       {"mark":{"type":"rule","strokeWidth":1.2},
        "encoding":{
         "x":{"field":"c","type":"nominal","sort":["Ctrl","Eto","2-DG"]},
         "xOffset":{"field":"s","type":"nominal","sort":["Mock","Foxp3UP"]},
         "y":{"field":"lo","type":"quantitative","title":"% Proliferating cells"},
         "y2":{"field":"hi"},
         "stroke":{"field":"s","type":"nominal","legend":null}
        }},
       {"mark":{"type":"tick","size":10,"thickness":1.2},
        "encoding":{
         "x":{"field":"c","type":"nominal","sort":["Ctrl","Eto","2-DG"]},
         "xOffset":{"field":"s","type":"nominal","sort":["Mock","Foxp3UP"]},
         "y":{"field":"lo","type":"quantitative","title":"% Proliferating cells"},
         "color":{"field":"s","type":"nominal","scale":{"domain":["Mock","Foxp3UP"],"range":["#3c3c3c","#e2474b"]},"legend":null}
        }},
       {"mark":{"type":"tick","size":10,"thickness":1.2},
        "encoding":{
         "x":{"field":"c","type":"nominal","sort":["Ctrl","Eto","2-DG"]},
         "xOffset":{"field":"s","type":"nominal","sort":["Mock","Foxp3UP"]},
         "y":{"field":"hi","type":"quantitative","title":"% Proliferating cells"},
         "color":{"field":"s","type":"nominal","scale":{"domain":["Mock","Foxp3UP"],"range":["#3c3c3c","#e2474b"]},"legend":null}
        }},
       {"data":{"name":"ann"},
        "transform":[{"filter":"datum.panel === 'A2' && datum.kind === 'fold'"}],
        "mark":{"type":"tick","size":18,"thickness":1.3,"color":"#333"},
        "encoding":{
         "x":{"field":"c","type":"nominal","sort":["Ctrl","Eto","2-DG"]},
         "y":{"field":"y","type":"quantitative","title":"% Proliferating cells"}
        }},
       {"data":{"name":"ann"},
        "transform":[{"filter":"datum.panel === 'A2' && datum.kind === 'fold'"}],
        "mark":{"type":"text","baseline":"bottom","dy":-3,"fontSize":12,"color":"#111"},
        "encoding":{
         "x":{"field":"c","type":"nominal","sort":["Ctrl","Eto","2-DG"]},
         "y":{"field":"y","type":"quantitative","title":"% Proliferating cells"},
         "text":{"field":"t","type":"nominal"}
        }},
       {"data":{"name":"ann"},
        "transform":[{"filter":"datum.panel === 'A2' && datum.kind === 'title'"}],
        "mark":{"type":"text","baseline":"alphabetic","dy":3,"fontSize":12,"color":"#111"},
        "encoding":{
         "x":{"field":"c","type":"nominal","sort":["Ctrl","Eto","2-DG"]},
         "y":{"field":"y","type":"quantitative","title":"% Proliferating cells"},
         "text":{"field":"t","type":"nominal"}
        }}
      ]
     }
    ]
   },
   {
    "spacing":-12,
    "resolve":{"scale":{"color":"independent","fill":"independent","stroke":"independent","strokeDash":"independent","xOffset":"independent"}},
    "vconcat":[
     {"width":1,"height":1,"view":{"stroke":null},"data":{"values":[]},"mark":{"type":"point"}},
     {
      "spacing":36,
      "resolve":{"scale":{"color":"independent","strokeDash":"independent"}},
      "vconcat":[
       {
        "spacing":3,
        "resolve":{"scale":{"color":"independent","strokeDash":"independent"}},
        "vconcat":[
         {
          "spacing":6,
          "hconcat":[
           {"width":147,"height":147,"view":{"stroke":"#555"},
            "data":{"name":"hist"},"transform":[{"filter":"datum.p === '2Ctrl'"}],
            "title":{"text":"Ctrl","fontSize":12.5,"offset":5},
            "mark":{"type":"line","strokeWidth":1.2},
            "encoding":{
             "x":{"field":"x","type":"quantitative","scale":{"domain":[0,100],"nice":false},"axis":{"title":null,"labels":false,"domain":false,"tickSize":3,"values":[0,12.3,19.4,24.5,28.4,31.7,34.4,36.8,38.8,40.7,53,60.1,65.2,69.1,72.4,75.1,77.5,79.5,81.4,93.7]}},
             "y":{"field":"y","type":"quantitative","scale":{"domain":[0,104],"nice":false},"axis":{"title":null,"labels":false,"domain":false,"tickSize":3,"values":[0,4,8,12,16,20,24,28,32,36,40,44,48,52,56,60,64,68,72,76,80,84,88,92,96,100,104]}},
             "color":{"field":"s","type":"nominal","scale":{"domain":["Mock","Foxp3UP","Mock resting","Foxp3UP resting"],"range":["#1a1a1a","#e3262b","#7a7a7a","#e3262b"]},"legend":null},
             "strokeDash":{"field":"s","type":"nominal","scale":{"domain":["Mock","Foxp3UP","Mock resting","Foxp3UP resting"],"range":[[1,0],[1,0],[2,1.5],[2,1.5]]},"legend":null}
            }},
           {"width":147,"height":147,"view":{"stroke":"#555"},
            "data":{"name":"hist"},"transform":[{"filter":"datum.p === '2Eto'"}],
            "title":{"text":"Eto","fontSize":12.5,"offset":5},
            "mark":{"type":"line","strokeWidth":1.2},
            "encoding":{
             "x":{"field":"x","type":"quantitative","scale":{"domain":[0,100],"nice":false},"axis":{"title":null,"labels":false,"domain":false,"tickSize":3,"values":[0,12.3,19.4,24.5,28.4,31.7,34.4,36.8,38.8,40.7,53,60.1,65.2,69.1,72.4,75.1,77.5,79.5,81.4,93.7]}},
             "y":{"field":"y","type":"quantitative","scale":{"domain":[0,104],"nice":false},"axis":{"title":null,"labels":false,"domain":false,"tickSize":3,"values":[0,4,8,12,16,20,24,28,32,36,40,44,48,52,56,60,64,68,72,76,80,84,88,92,96,100,104]}},
             "color":{"field":"s","type":"nominal","scale":{"domain":["Mock","Foxp3UP","Mock resting","Foxp3UP resting"],"range":["#1a1a1a","#e3262b","#7a7a7a","#e3262b"]},"legend":null},
             "strokeDash":{"field":"s","type":"nominal","scale":{"domain":["Mock","Foxp3UP","Mock resting","Foxp3UP resting"],"range":[[1,0],[1,0],[2,1.5],[2,1.5]]},"legend":null}
            }},
           {"width":147,"height":147,"view":{"stroke":"#555"},
            "data":{"name":"hist"},"transform":[{"filter":"datum.p === '2DG'"}],
            "title":{"text":"2-DG","fontSize":12.5,"offset":5},
            "mark":{"type":"line","strokeWidth":1.2},
            "encoding":{
             "x":{"field":"x","type":"quantitative","scale":{"domain":[0,100],"nice":false},"axis":{"title":null,"labels":false,"domain":false,"tickSize":3,"values":[0,12.3,19.4,24.5,28.4,31.7,34.4,36.8,38.8,40.7,53,60.1,65.2,69.1,72.4,75.1,77.5,79.5,81.4,93.7]}},
             "y":{"field":"y","type":"quantitative","scale":{"domain":[0,104],"nice":false},"axis":{"title":null,"labels":false,"domain":false,"tickSize":3,"values":[0,4,8,12,16,20,24,28,32,36,40,44,48,52,56,60,64,68,72,76,80,84,88,92,96,100,104]}},
             "color":{"field":"s","type":"nominal","scale":{"domain":["Mock","Foxp3UP","Mock resting","Foxp3UP resting"],"range":["#1a1a1a","#e3262b","#7a7a7a","#e3262b"]},"legend":null},
             "strokeDash":{"field":"s","type":"nominal","scale":{"domain":["Mock","Foxp3UP","Mock resting","Foxp3UP resting"],"range":[[1,0],[1,0],[2,1.5],[2,1.5]]},"legend":null}
            }},
           {"width":14,"height":147,"view":{"stroke":null},
            "data":{"name":"lbl"},"transform":[{"filter":"datum.r === 1"}],
            "mark":{"type":"text","align":"left","baseline":"middle","fontSize":11.5,"lineHeight":15,"dy":-3,"color":"#111"},
            "encoding":{"text":{"field":"t","type":"nominal"}}}
          ]
         },
         {"width":470,"height":1,"view":{"stroke":null},
          "data":{"name":"hist"},"transform":[{"filter":"datum.p === 'none'"}],
          "mark":{"type":"line"},
          "encoding":{
           "x":{"field":"x","type":"quantitative","axis":null},
           "y":{"field":"y","type":"quantitative","axis":null},
           "color":{"field":"s","type":"nominal","scale":{"domain":["Mock","Foxp3UP","Mock resting","Foxp3UP resting"],"range":["#1a1a1a","#e3262b","#7a7a7a","#e3262b"]},"legend":{"title":null,"orient":"bottom","direction":"horizontal","offset":0,"symbolType":"square","symbolSize":170,"symbolStrokeWidth":1.5,"symbolFillColor":"white","labelFontSize":12.5,"labelOffset":3,"columnPadding":14}},
           "strokeDash":{"field":"s","type":"nominal","scale":{"domain":["Mock","Foxp3UP","Mock resting","Foxp3UP resting"],"range":[[1,0],[1,0],[2,1.5],[2,1.5]]},"legend":{"title":null,"orient":"bottom","direction":"horizontal","offset":0,"symbolType":"square","symbolSize":170,"symbolStrokeWidth":1.5,"symbolFillColor":"white","labelFontSize":12.5,"labelOffset":3,"columnPadding":14}}
          }}
        ]
       },
       {
        "spacing":0,
        "resolve":{"scale":{"color":"independent","strokeDash":"independent"}},
        "vconcat":[
         {
          "spacing":6,
          "hconcat":[
           {"width":147,"height":147,"view":{"stroke":"#555"},
            "data":{"name":"hist"},"transform":[{"filter":"datum.p === '03Ctrl'"}],
            "mark":{"type":"line","strokeWidth":1.2},
            "encoding":{
             "x":{"field":"x","type":"quantitative","scale":{"domain":[0,100],"nice":false},"axis":{"title":null,"labels":false,"domain":false,"tickSize":3,"values":[0,12.3,19.4,24.5,28.4,31.7,34.4,36.8,38.8,40.7,53,60.1,65.2,69.1,72.4,75.1,77.5,79.5,81.4,93.7]}},
             "y":{"field":"y","type":"quantitative","scale":{"domain":[0,104],"nice":false},"axis":{"title":null,"labels":false,"domain":false,"tickSize":3,"values":[0,4,8,12,16,20,24,28,32,36,40,44,48,52,56,60,64,68,72,76,80,84,88,92,96,100,104]}},
             "color":{"field":"s","type":"nominal","scale":{"domain":["Mock","Foxp3UP","Mock resting","Foxp3UP resting"],"range":["#1a1a1a","#e3262b","#7a7a7a","#e3262b"]},"legend":null},
             "strokeDash":{"field":"s","type":"nominal","scale":{"domain":["Mock","Foxp3UP","Mock resting","Foxp3UP resting"],"range":[[1,0],[1,0],[2,1.5],[2,1.5]]},"legend":null}
            }},
           {"width":147,"height":147,"view":{"stroke":"#555"},
            "data":{"name":"hist"},"transform":[{"filter":"datum.p === '03Eto'"}],
            "mark":{"type":"line","strokeWidth":1.2},
            "encoding":{
             "x":{"field":"x","type":"quantitative","scale":{"domain":[0,100],"nice":false},"axis":{"title":null,"labels":false,"domain":false,"tickSize":3,"values":[0,12.3,19.4,24.5,28.4,31.7,34.4,36.8,38.8,40.7,53,60.1,65.2,69.1,72.4,75.1,77.5,79.5,81.4,93.7]}},
             "y":{"field":"y","type":"quantitative","scale":{"domain":[0,104],"nice":false},"axis":{"title":null,"labels":false,"domain":false,"tickSize":3,"values":[0,4,8,12,16,20,24,28,32,36,40,44,48,52,56,60,64,68,72,76,80,84,88,92,96,100,104]}},
             "color":{"field":"s","type":"nominal","scale":{"domain":["Mock","Foxp3UP","Mock resting","Foxp3UP resting"],"range":["#1a1a1a","#e3262b","#7a7a7a","#e3262b"]},"legend":null},
             "strokeDash":{"field":"s","type":"nominal","scale":{"domain":["Mock","Foxp3UP","Mock resting","Foxp3UP resting"],"range":[[1,0],[1,0],[2,1.5],[2,1.5]]},"legend":null}
            }},
           {"width":147,"height":147,"view":{"stroke":"#555"},
            "data":{"name":"hist"},"transform":[{"filter":"datum.p === '03DG'"}],
            "mark":{"type":"line","strokeWidth":1.2},
            "encoding":{
             "x":{"field":"x","type":"quantitative","scale":{"domain":[0,100],"nice":false},"axis":{"title":null,"labels":false,"domain":false,"tickSize":3,"values":[0,12.3,19.4,24.5,28.4,31.7,34.4,36.8,38.8,40.7,53,60.1,65.2,69.1,72.4,75.1,77.5,79.5,81.4,93.7]}},
             "y":{"field":"y","type":"quantitative","scale":{"domain":[0,104],"nice":false},"axis":{"title":null,"labels":false,"domain":false,"tickSize":3,"values":[0,4,8,12,16,20,24,28,32,36,40,44,48,52,56,60,64,68,72,76,80,84,88,92,96,100,104]}},
             "color":{"field":"s","type":"nominal","scale":{"domain":["Mock","Foxp3UP","Mock resting","Foxp3UP resting"],"range":["#1a1a1a","#e3262b","#7a7a7a","#e3262b"]},"legend":null},
             "strokeDash":{"field":"s","type":"nominal","scale":{"domain":["Mock","Foxp3UP","Mock resting","Foxp3UP resting"],"range":[[1,0],[1,0],[2,1.5],[2,1.5]]},"legend":null}
            }},
           {"width":14,"height":147,"view":{"stroke":null},
            "data":{"name":"lbl"},"transform":[{"filter":"datum.r === 2"}],
            "mark":{"type":"text","align":"left","baseline":"middle","fontSize":11.5,"lineHeight":15,"dy":0,"color":"#111"},
            "encoding":{"text":{"field":"t","type":"nominal"}}}
          ]
         },
         {
          "width":465,"height":4,"view":{"stroke":null},
          "data":{"name":"arrow"},
          "layer":[
           {"mark":{"type":"rule","strokeWidth":1.8,"color":"#000"},
            "encoding":{
             "x":{"field":"x0","type":"quantitative","title":"CTV","scale":{"domain":[0,100],"nice":false},"axis":{"labels":false,"ticks":false,"domain":false,"titleFontSize":12,"titlePadding":3}},
             "x2":{"field":"x1"}
            }},
           {"mark":{"type":"point","shape":"triangle-right","filled":true,"size":150,"color":"#000","opacity":1},
            "encoding":{"x":{"field":"xt","type":"quantitative","title":"CTV"}}}
          ]
         }
        ]
       }
      ]
     }
    ]
   }
  ]
 },
 {
  "spacing":38,
  "resolve":{"scale":{"color":"independent","fill":"independent","stroke":"independent","strokeDash":"independent","xOffset":"independent"}},
  "hconcat":[
   {
    "title":{"text":"B","anchor":"start","fontWeight":"bold","fontSize":15,"dx":-11,"offset":1},
    "spacing":0,
    "resolve":{"scale":{"xOffset":"independent"}},
    "hconcat":[
     {
      "width":95,"height":150,"view":{"stroke":"#222"},
      "data":{"name":"bc"},
      "transform":[{"filter":"datum.fig === 'B' && datum.g === 'Glu 2 g/L'"}],
      "title":{"text":"Glu 2 g/L","fontSize":12.5,"offset":4},
      "layer":[
       {"transform":[{"filter":"datum.s != null"}],
        "mark":{"type":"bar","strokeWidth":1.1},
        "encoding":{
         "x":{"field":"c","type":"nominal","sort":["Eto","2DG","Oligo"],"scale":{"paddingInner":0.39,"paddingOuter":0.23},"axis":{"title":null,"labelAngle":0,"labelFontSize":12,"domainColor":"#222"}},
         "xOffset":{"field":"s","type":"nominal","sort":["Mock","Foxp3UP"],"scale":{"paddingInner":0.35}},
         "y":{"field":"v","type":"quantitative","title":"Proliferation inhibition index","scale":{"domain":[0,5]},"axis":{"values":[0,1,2,3,4,5],"labelFontSize":12.5,"titleFontSize":12}},
         "fill":{"field":"s","type":"nominal","scale":{"domain":["Mock","Foxp3UP"],"range":["#c0c0c0","#f6c7c7"]},"legend":null},
         "stroke":{"field":"s","type":"nominal","scale":{"domain":["Mock","Foxp3UP"],"range":["#3c3c3c","#e2474b"]},"legend":null}
        }},
       {"transform":[{"filter":"datum.s != null"}],
        "mark":{"type":"rule","strokeWidth":1.1},
        "encoding":{
         "x":{"field":"c","type":"nominal","sort":["Eto","2DG","Oligo"]},
         "xOffset":{"field":"s","type":"nominal","sort":["Mock","Foxp3UP"]},
         "y":{"field":"lo","type":"quantitative","title":"Proliferation inhibition index"},
         "y2":{"field":"hi"},
         "stroke":{"field":"s","type":"nominal","legend":null}
        }},
       {"transform":[{"filter":"datum.s != null"}],
        "mark":{"type":"tick","size":6,"thickness":1.1},
        "encoding":{
         "x":{"field":"c","type":"nominal","sort":["Eto","2DG","Oligo"]},
         "xOffset":{"field":"s","type":"nominal","sort":["Mock","Foxp3UP"]},
         "y":{"field":"lo","type":"quantitative","title":"Proliferation inhibition index"},
         "color":{"field":"s","type":"nominal","scale":{"domain":["Mock","Foxp3UP"],"range":["#3c3c3c","#e2474b"]},"legend":null}
        }},
       {"transform":[{"filter":"datum.s != null"}],
        "mark":{"type":"tick","size":6,"thickness":1.1},
        "encoding":{
         "x":{"field":"c","type":"nominal","sort":["Eto","2DG","Oligo"]},
         "xOffset":{"field":"s","type":"nominal","sort":["Mock","Foxp3UP"]},
         "y":{"field":"hi","type":"quantitative","title":"Proliferation inhibition index"},
         "color":{"field":"s","type":"nominal","scale":{"domain":["Mock","Foxp3UP"],"range":["#3c3c3c","#e2474b"]},"legend":null}
        }},
       {"mark":{"type":"rule","strokeDash":[2,2],"color":"#000","strokeWidth":1.3},
        "encoding":{"y":{"datum":1,"type":"quantitative","title":"Proliferation inhibition index"}}},
       {"transform":[{"filter":"datum.t != null"}],
        "mark":{"type":"tick","size":12,"thickness":1.2,"color":"#222"},
        "encoding":{
         "x":{"field":"c","type":"nominal","sort":["Eto","2DG","Oligo"]},
         "y":{"field":"ay","type":"quantitative","title":"Proliferation inhibition index"}
        }},
       {"transform":[{"filter":"datum.t != null"}],
        "mark":{"type":"text","baseline":"bottom","dy":-3,"fontSize":12.5,"color":"#111"},
        "encoding":{
         "x":{"field":"c","type":"nominal","sort":["Eto","2DG","Oligo"]},
         "y":{"field":"ay","type":"quantitative","title":"Proliferation inhibition index"},
         "text":{"field":"t","type":"nominal"}
        }}
      ]
     },
     {
      "width":95,"height":150,"view":{"stroke":"#222"},
      "data":{"name":"bc"},
      "transform":[{"filter":"datum.fig === 'B' && datum.g === 'Glu 0.3 g/L'"}],
      "title":{"text":"Glu 0.3 g/L","fontSize":12.5,"offset":4},
      "layer":[
       {"transform":[{"filter":"datum.s != null"}],
        "mark":{"type":"bar","strokeWidth":1.1},
        "encoding":{
         "x":{"field":"c","type":"nominal","sort":["Eto","2DG","Oligo"],"scale":{"paddingInner":0.39,"paddingOuter":0.23},"axis":{"title":null,"labelAngle":0,"labelFontSize":12,"domainColor":"#222"}},
         "xOffset":{"field":"s","type":"nominal","sort":["Mock","Foxp3UP"],"scale":{"paddingInner":0.35}},
         "y":{"field":"v","type":"quantitative","scale":{"domain":[0,5]},"axis":null},
         "fill":{"field":"s","type":"nominal","scale":{"domain":["Mock","Foxp3UP"],"range":["#c0c0c0","#f6c7c7"]},"legend":null},
         "stroke":{"field":"s","type":"nominal","scale":{"domain":["Mock","Foxp3UP"],"range":["#3c3c3c","#e2474b"]},"legend":null}
        }},
       {"transform":[{"filter":"datum.s != null"}],
        "mark":{"type":"rule","strokeWidth":1.1},
        "encoding":{
         "x":{"field":"c","type":"nominal","sort":["Eto","2DG","Oligo"]},
         "xOffset":{"field":"s","type":"nominal","sort":["Mock","Foxp3UP"]},
         "y":{"field":"lo","type":"quantitative","axis":null},
         "y2":{"field":"hi"},
         "stroke":{"field":"s","type":"nominal","legend":null}
        }},
       {"transform":[{"filter":"datum.s != null"}],
        "mark":{"type":"tick","size":6,"thickness":1.1},
        "encoding":{
         "x":{"field":"c","type":"nominal","sort":["Eto","2DG","Oligo"]},
         "xOffset":{"field":"s","type":"nominal","sort":["Mock","Foxp3UP"]},
         "y":{"field":"lo","type":"quantitative","axis":null},
         "color":{"field":"s","type":"nominal","scale":{"domain":["Mock","Foxp3UP"],"range":["#3c3c3c","#e2474b"]},"legend":null}
        }},
       {"transform":[{"filter":"datum.s != null"}],
        "mark":{"type":"tick","size":6,"thickness":1.1},
        "encoding":{
         "x":{"field":"c","type":"nominal","sort":["Eto","2DG","Oligo"]},
         "xOffset":{"field":"s","type":"nominal","sort":["Mock","Foxp3UP"]},
         "y":{"field":"hi","type":"quantitative","axis":null},
         "color":{"field":"s","type":"nominal","scale":{"domain":["Mock","Foxp3UP"],"range":["#3c3c3c","#e2474b"]},"legend":null}
        }},
       {"mark":{"type":"rule","strokeDash":[2,2],"color":"#000","strokeWidth":1.3},
        "encoding":{"y":{"datum":1,"type":"quantitative","axis":null}}},
       {"transform":[{"filter":"datum.t != null"}],
        "mark":{"type":"tick","size":12,"thickness":1.2,"color":"#222"},
        "encoding":{
         "x":{"field":"c","type":"nominal","sort":["Eto","2DG","Oligo"]},
         "y":{"field":"ay","type":"quantitative","axis":null}
        }},
       {"transform":[{"filter":"datum.t != null"}],
        "mark":{"type":"text","baseline":"bottom","dy":-3,"fontSize":12.5,"color":"#111"},
        "encoding":{
         "x":{"field":"c","type":"nominal","sort":["Eto","2DG","Oligo"]},
         "y":{"field":"ay","type":"quantitative","axis":null},
         "text":{"field":"t","type":"nominal"}
        }}
      ]
     }
    ]
   },
   {
    "title":{"text":"C","anchor":"start","fontWeight":"bold","fontSize":15,"dx":-21,"offset":0},
    "resolve":{"scale":{"color":"independent","fill":"independent","stroke":"independent","strokeDash":"independent","xOffset":"independent"}},
    "vconcat":[
     {
      "title":{"text":"Hypoxia","fontSize":12,"offset":-4,"anchor":"middle"},
      "spacing":0,
      "resolve":{"scale":{"color":"independent","fill":"independent","stroke":"independent","strokeDash":"independent","xOffset":"independent"}},
      "hconcat":[
       {
        "width":124,"height":151,"view":{"stroke":"#222"},
        "data":{"name":"bc"},
        "transform":[{"filter":"datum.fig === 'C' && datum.g === 'Glu 2 g/L'"}],
        "title":{"text":"Glu 2 g/L","fontSize":12.5,"offset":3},
        "layer":[
         {"mark":{"type":"bar","strokeWidth":1.1},
          "encoding":{
           "x":{"field":"c","type":"nominal","sort":["Ctrl","Eto","2DG","Omy"],"scale":{"paddingInner":0.41,"paddingOuter":0.2},"axis":{"title":null,"labelAngle":0,"labelFontSize":12.5,"domainColor":"#222"}},
           "xOffset":{"field":"s","type":"nominal","sort":["Mock","Foxp3UP"],"scale":{"paddingInner":0.41}},
           "y":{"field":"v","type":"quantitative","title":"% Proliferating cells","scale":{"domain":[0,80]},"axis":{"values":[0,20,40,60,80],"labelFontSize":12.5,"titleFontSize":12}},
           "fill":{"field":"s","type":"nominal","scale":{"domain":["Mock","Foxp3UP"],"range":["#c0c0c0","#f6c7c7"]},"legend":null},
           "stroke":{"field":"s","type":"nominal","scale":{"domain":["Mock","Foxp3UP"],"range":["#3c3c3c","#e2474b"]},"legend":null}
          }},
         {"mark":{"type":"rule","strokeWidth":1.1},
          "encoding":{
           "x":{"field":"c","type":"nominal","sort":["Ctrl","Eto","2DG","Omy"]},
           "xOffset":{"field":"s","type":"nominal","sort":["Mock","Foxp3UP"]},
           "y":{"field":"lo","type":"quantitative","title":"% Proliferating cells"},
           "y2":{"field":"hi"},
           "stroke":{"field":"s","type":"nominal","legend":null}
          }},
         {"mark":{"type":"tick","size":6,"thickness":1.1},
          "encoding":{
           "x":{"field":"c","type":"nominal","sort":["Ctrl","Eto","2DG","Omy"]},
           "xOffset":{"field":"s","type":"nominal","sort":["Mock","Foxp3UP"]},
           "y":{"field":"lo","type":"quantitative","title":"% Proliferating cells"},
           "color":{"field":"s","type":"nominal","scale":{"domain":["Mock","Foxp3UP"],"range":["#3c3c3c","#e2474b"]},"legend":null}
          }},
         {"mark":{"type":"tick","size":6,"thickness":1.1},
          "encoding":{
           "x":{"field":"c","type":"nominal","sort":["Ctrl","Eto","2DG","Omy"]},
           "xOffset":{"field":"s","type":"nominal","sort":["Mock","Foxp3UP"]},
           "y":{"field":"hi","type":"quantitative","title":"% Proliferating cells"},
           "color":{"field":"s","type":"nominal","scale":{"domain":["Mock","Foxp3UP"],"range":["#3c3c3c","#e2474b"]},"legend":null}
          }}
        ]
       },
       {
        "width":124,"height":151,"view":{"stroke":"#222"},
        "data":{"name":"bc"},
        "transform":[{"filter":"datum.fig === 'C' && datum.g === 'Glu 0.3 g/L'"}],
        "title":{"text":"Glu 0.3 g/L","fontSize":12.5,"offset":3},
        "layer":[
         {"mark":{"type":"bar","strokeWidth":1.1},
          "encoding":{
           "x":{"field":"c","type":"nominal","sort":["Ctrl","Eto","2DG","Omy"],"scale":{"paddingInner":0.41,"paddingOuter":0.2},"axis":{"title":null,"labelAngle":0,"labelFontSize":12.5,"domainColor":"#222"}},
           "xOffset":{"field":"s","type":"nominal","sort":["Mock","Foxp3UP"],"scale":{"paddingInner":0.41}},
           "y":{"field":"v","type":"quantitative","scale":{"domain":[0,80]},"axis":null},
           "fill":{"field":"s","type":"nominal","scale":{"domain":["Mock","Foxp3UP"],"range":["#c0c0c0","#f6c7c7"]},"legend":{"title":null,"orient":"top-right","offset":3,"symbolType":"M-1.9,-1L1.9,-1L1.9,1L-1.9,1Z","symbolSize":81,"symbolStrokeWidth":1.2,"labelFontSize":12.5,"labelOffset":8,"rowPadding":0}},
           "stroke":{"field":"s","type":"nominal","scale":{"domain":["Mock","Foxp3UP"],"range":["#3c3c3c","#e2474b"]},"legend":{"title":null,"orient":"top-right","offset":3,"symbolType":"M-1.9,-1L1.9,-1L1.9,1L-1.9,1Z","symbolSize":81,"symbolStrokeWidth":1.2,"labelFontSize":12.5,"labelOffset":8,"rowPadding":0}}
          }},
         {"mark":{"type":"rule","strokeWidth":1.1},
          "encoding":{
           "x":{"field":"c","type":"nominal","sort":["Ctrl","Eto","2DG","Omy"]},
           "xOffset":{"field":"s","type":"nominal","sort":["Mock","Foxp3UP"]},
           "y":{"field":"lo","type":"quantitative","axis":null},
           "y2":{"field":"hi"},
           "stroke":{"field":"s","type":"nominal"}
          }},
         {"mark":{"type":"tick","size":6,"thickness":1.1},
          "encoding":{
           "x":{"field":"c","type":"nominal","sort":["Ctrl","Eto","2DG","Omy"]},
           "xOffset":{"field":"s","type":"nominal","sort":["Mock","Foxp3UP"]},
           "y":{"field":"lo","type":"quantitative","axis":null},
           "color":{"field":"s","type":"nominal","scale":{"domain":["Mock","Foxp3UP"],"range":["#3c3c3c","#e2474b"]},"legend":null}
          }},
         {"mark":{"type":"tick","size":6,"thickness":1.1},
          "encoding":{
           "x":{"field":"c","type":"nominal","sort":["Ctrl","Eto","2DG","Omy"]},
           "xOffset":{"field":"s","type":"nominal","sort":["Mock","Foxp3UP"]},
           "y":{"field":"hi","type":"quantitative","axis":null},
           "color":{"field":"s","type":"nominal","scale":{"domain":["Mock","Foxp3UP"],"range":["#3c3c3c","#e2474b"]},"legend":null}
          }}
        ]
       }
      ]
     }
    ]
   }
  ]
 }
]
}
